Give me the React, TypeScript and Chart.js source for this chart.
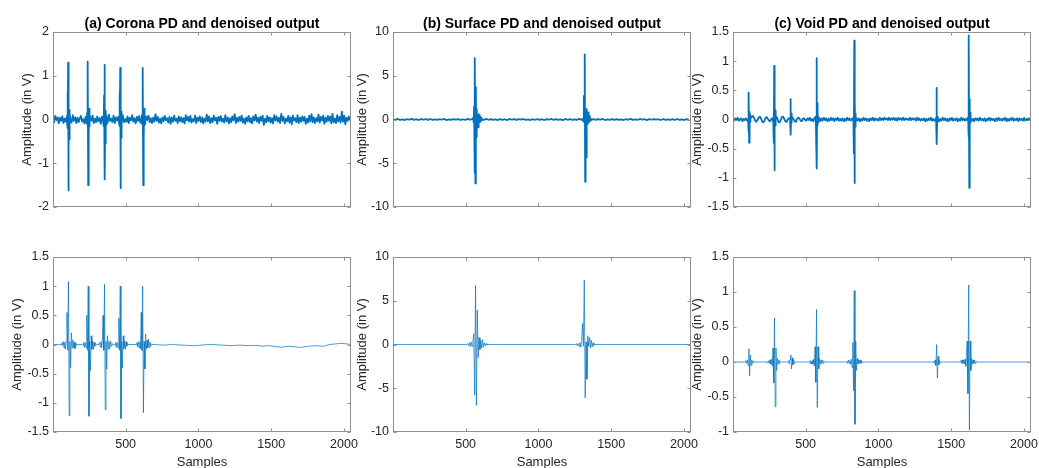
import { useEffect, useRef } from "react";
import { Chart, registerables } from "chart.js";

Chart.register(...registerables);

// ---- axes -------------------------------------------------------------
const SAMPLE_MIN = 1;
const SAMPLE_MAX = 2048;
const X_TICKS = [500, 1000, 1500, 2000];
const Y_LABEL = "Amplitude (in V)";
const X_LABEL = "Samples";
const TITLES = [
  "(a) Corona PD and denoised output",
  "(b) Surface PD and denoised output",
  "(c) Void PD and denoised output",
];

// ---- (a) corona: raw trace -------------------------------------------
// background noise, hundredths of a volt, one value every 8 samples
const coronaRawNoise = [
  3, -6, 8, -2, 5, -9, 4, -3, 7, -8, 2, -5, 9, -4, 6, -1, -7, 10, -3, 5, -8, 4, -6, 3, 8, -5, 1, -9, 6, -2, 4, -7,
  5, -3, 9, -8, 2, -6, 7, -4, 3, -10, 6, -1, 8, -5, 4, -7, 11, -3, 2, -6, 9, -8, 5, -2, 6, -9, 3, -4, 8, -6, 1, -5,
  7, -8, 4, -2, 10, -5, 3, -9, 6, -3, 8, -7, 2, -4, 5, -11, 7, -1, 9, -6, 3, -8, 4, -5, 12, -3, 6, -7, 2, -9, 5, -4,
  8, -2, 3, -7, 6, -10, 4, -5, 9, -3, 2, -8, 7, -4, 5, -6, 3, -9, 10, -2, 6, -5, 8, -7, 1, -4, 9, -8, 4, -3, 7, -6,
  5, -9, 2, -5, 11, -4, 7, -8, 3, -6, 9, -2, 4, -10, 6, -3, 8, -5, 2, -7, 10, -4, 5, -9, 3, -6, 7, -2, 12, -8, 4, -5,
  6, -3, 9, -7, 2, -10, 5, -4, 8, -6, 3, -9, 7, -2, 11, -5, 4, -8, 6, -3, 9, -12, 2, -6, 8, -4, 5, -7, 3, -9, 10, -2,
  7, -5, 4, -8, 13, -3, 6, -9, 2, -4, 8, -7, 5, -11, 9, -2, 3, -6, 10, -8, 4, -5, 7, -3, 6, -10, 2, -7, 9, -4, 12, -6,
  5, -8, 3, -4, 11, -7, 6, -2, 9, -10, 4, -5, 8, -3, 7, -9, 13, -6, 2, -8, 10, -4, 6, -7, 18, -5, 9, -11, 4, -3, 7, -2,
];
const coronaRawPulseStart = [97, 233, 348, 455, 611];
const coronaRawPulseStep = 2;
const coronaRawPulses = [
  [0.08, -0.12, 0.62, -0.2, 1.3, -1.62, 0.1, -0.45, 0.22, -0.18, 0.12],
  [-0.1, 0.15, 0.68, -0.1, 1.32, -1.5, 0.15, -0.38, 0.25, -0.15, 0.1],
  [0.1, -0.15, 0.55, -0.2, 1.25, -1.37, 0.1, -0.55, 0.2, -0.12, 0.08],
  [-0.08, 0.12, 0.6, -0.15, 1.18, -1.57, 0.12, -0.42, 0.18, -0.2, 0.1],
  [0.1, -0.1, 0.62, -0.1, 1.18, -1.5, 0.1, -0.45, 0.25, -0.12, 0.08],
];

// ---- (a) corona: denoised trace --------------------------------------
const coronaCleanBaseX = [1, 40, 700, 760, 820, 880, 930, 980, 1040, 1100, 1160, 1220, 1280, 1340, 1400, 1440, 1480, 1540, 1580, 1620, 1660, 1700, 1740, 1800, 1860, 1900, 1940, 1980, 2020, 2048];
const coronaCleanBaseY = [0, 0, 0, -0.01, 0, -0.01, -0.015, -0.02, -0.005, 0, -0.01, -0.02, -0.01, -0.02, -0.015, -0.03, -0.02, -0.04, -0.045, -0.03, -0.04, -0.05, -0.035, -0.02, -0.03, 0, 0.01, 0.02, 0.01, 0];
const coronaCleanPulseStart = [57, 203, 315, 423, 572];
const coronaCleanPulseStep = 5;
const coronaCleanPulses = [
  [0, 0.03, -0.02, 0.05, -0.06, 0.04, -0.08, 0.06, 0.55, -0.1, 1.08, -1.22, 0.05, -0.4, 0.2, -0.06, 0.08, -0.05, 0.04, -0.07, 0.03, -0.02, 0],
  [0, -0.02, 0.04, -0.05, 0.03, -0.06, 0.5, -0.1, 1.0, -1.23, 0.05, -0.45, 0.15, -0.08, 0.06, -0.09, 0.04, -0.03, 0.02, 0],
  [0, 0.03, -0.04, 0.05, -0.06, 0.04, 0.5, -0.1, 1.03, -1.12, 0.05, -0.42, 0.15, -0.08, 0.05, -0.07, 0.06, -0.03, 0.02, 0],
  [0, -0.02, 0.04, -0.05, 0.03, -0.06, 0.45, -0.1, 1.0, -1.27, 0.05, -0.4, 0.15, -0.07, 0.06, -0.08, 0.05, -0.03, 0.02, 0],
  [0, 0.03, -0.04, 0.05, -0.06, 0.04, -0.07, 0.55, -0.1, 1.0, -1.17, 0.05, -0.42, 0.18, -0.08, 0.07, -0.06, 0.09, -0.05, 0.04, -0.03, 0.01, 0],
];

// ---- (b) surface: raw trace ------------------------------------------
// background noise, hundredths of a volt, one value every 16 samples
const surfaceRawNoise = [
  5, -3, 6, -5, 2, -6, 4, -2, 7, -4, 3, -6, 5, -2, 4, -5, 6, -4, 2, -5, 5, -3, 6, -7, 2, -4, 5, -2, 4, -6, 3, -5,
  6, -2, 4, -6, 5, -4, 2, -5, 7, -3, 4, -5, 2, -6, 5, -4, 3, -7, 6, -2, 4, -5, 5, -2, 6, -4, 2, -6, 4, -3, 5, -4,
  3, -6, 5, -2, 6, -4, 4, -5, 2, -7, 6, -3, 4, -5, 2, -4, 7, -5, 3, -2, 5, -6, 4, -4, 5, -2, 6, -6, 2, -4, 4, -5,
  5, -4, 2, -6, 4, -3, 7, -5, 2, -4, 6, -2, 4, -7, 5, -3, 5, -2, 3, -6, 6, -4, 2, -5, 4, -4, 6, -5, 2, -6, 5, -3,
];
const surfaceRawPulseStart = [552, 1306];
const surfaceRawPulseStep = 3;
const surfaceRawPulses = [
  [0.2, -0.3, 1.5, -6.1, 7.0, -7.3, 3.7, -2.0, 1.2, -0.8, 0.5, -0.9, 0.6, -0.4, 0.5, -0.3, 0.3, -0.2, 0.15, -0.1, 0.1, -0.05],
  [0.1, -0.2, 2.7, -0.3, 7.45, -7.1, 0.4, -4.3, 1.2, -0.3, 0.6, -0.5, 0.8, -0.3, 0.4, -0.2, 0.2, -0.1, 0.1],
];

// ---- (b) surface: denoised trace -------------------------------------
const surfaceCleanBaseX = [1, 2048];
const surfaceCleanBaseY = [0, 0];
const surfaceCleanPulseStart = [508, 1249];
const surfaceCleanPulseStep = 6;
const surfaceCleanPulses = [
  [0, 0.1, -0.15, 0.2, -0.25, 0.3, -0.2, 0.4, 1.25, -5.8, 6.74, -6.94, 3.93, -1.5, 0.8, -0.6, 0.5, -0.4, 0.55, -0.3, 0.2, -0.15, 0.1, -0.05, 0],
  [0, -0.05, 0.1, -0.15, 0.12, -0.2, 0.2, -0.3, 0.5, 2.4, -0.2, 7.35, -6.1, 0.3, -3.97, 1.0, -0.2, 0.8, -0.4, 0.5, -0.3, 0.2, -0.1, 0.05, 0],
];

// ---- (c) void: raw trace ---------------------------------------------
// background noise, hundredths of a volt, one value every 8 samples
const voidRawNoise = [
  1, -2, 2, -1, 3, -2, 0, 2, -3, 1, -1, 2, -2, 1, -1, 2,
  4, 6, 3, -2, -4, -1, 3, 5, 2, -3, -5, -2, 3, 4, 1, -2,
  -3, 1, 2, 0, 0, 5, 2, -4, -5, -1, 4, 5, 1, -3, -4, 0, 2,
  0, 0, 4, 1, -3, -4, 1, 3, 2, -2, -3, 1, 2, -1, -2,
  2, -1, 3, -2, 1, -3, 2, -1, 0, 0, 3, -3, 2, -2, 3, -1,
  2, -3, 1, -2, 3, -1, 2, -3, 2, -1, 3, -2, 1, -2, 2, -3,
  1, -2, 3, -1, 2, -2, 1, -1, 0, 0,
  3, -2, 2, -3, 1, -2, 3, -1, 2, -2, 1, -3, 2, -1, 3, -2, 2, -1, 1, -2, 3, -1,
  2, -1, 3, 0, 2, -1, 3, -1, 2, 0, 3, -1, 2, -2, 3, 0, 2, -1, 3, -1, 2, 0, 1, -1, 3, -1, 2, 0, 2, -2, 3, -1,
  2, -2, 1, -1, 2, -3, 1, -2, 2, -1, 3, -2, 1, -2, 0, 0,
  2, -3, 1, -2, 3, -1, 2, -2, 1, -3, 2, -1, 3, -2, 1, -1, 2, -3, 1, -2, 3, -1, 2, -2, 1, -1,
  0, 0,
  3, -2, 1, -3, 2, -1, 2, -2, 3, -1, 1, -2, 2, -3, 1, -1, 3, -2, 2, -1, 1, -3, 2, -2, 3, -1, 1, -2, 2, -1, 3, -3,
  1, -2, 2, -1, 3, -2, 1, -1, 2, -3, 2, -1, 1, -2, 3, -2, 1, -1, 2, -2,
];
const voidRawPulseStart = [106, 278, 393, 569, 828, 1396, 1616];
const voidRawPulseStep = 2;
const voidRawPulses = [
  [0.03, -0.2, 0.46, -0.4, 0.13, -0.06, 0.08, -0.04],
  [-0.05, 0.1, -0.4, 0.92, -0.87, 0.26, -0.1, 0.15, -0.08, 0.06],
  [0.03, -0.1, 0.35, -0.26, 0.1, -0.05, 0.04],
  [0.05, -0.1, -0.45, 1.05, -0.84, 0.28, -0.1, 0.12, -0.05, 0.04],
  [0.04, -0.1, -0.58, 1.35, -1.09, 0.33, -0.12, 0.1, -0.06, 0.03],
  [0.03, -0.08, 0.54, -0.42, 0.05, -0.03, 0.02],
  [0.04, -0.1, -0.3, 1.44, -1.17, 0.35, -0.1, 0.12, -0.05, 0.03],
];

// ---- (c) void: denoised trace ----------------------------------------
const voidCleanBaseX = [1, 2048];
const voidCleanBaseY = [0, 0];
const voidCleanPulseStart = [85, 236, 378, 520, 779, 1375, 1560];
const voidCleanPulseStep = 5;
const voidCleanPulses = [
  [0, 0.02, -0.02, 0.03, -0.05, 0.19, -0.2, 0.1, -0.05, 0.03, -0.02, 0.01, 0],
  [0, -0.01, 0.02, -0.02, 0.03, -0.03, 0.04, -0.06, 0.2, -0.3, 0.63, -0.64, 0.2, -0.12, 0.05, -0.03, 0.03, -0.02, 0.01, 0],
  [0, 0.02, -0.03, 0.04, 0.1, -0.1, 0.06, -0.04, 0.03, -0.02, 0],
  [0, 0.01, -0.02, 0.02, -0.03, 0.02, -0.03, 0.04, -0.06, 0.22, -0.29, 0.75, -0.65, 0.22, -0.1, 0.05, -0.03, 0.03, -0.02, 0.03, -0.02, 0.01, 0],
  [0, 0.01, -0.02, 0.03, -0.02, 0.02, -0.03, 0.04, -0.08, 0.28, -0.41, 1.02, -0.89, 0.3, -0.12, 0.05, -0.03, 0.03, -0.02, 0.03, -0.02, 0.02, -0.01, 0],
  [0, 0.01, -0.02, 0.03, -0.05, 0.25, -0.23, 0.08, -0.04, 0.02, -0.01, 0, 0, 0],
  [0, 0.02, -0.02, 0.03, -0.02, 0.03, -0.03, 0.04, -0.06, 0.15, 0.3, -0.45, 1.1, -0.97, 0.3, -0.12, 0.05, -0.03, 0.03, -0.02, 0.03, -0.02, 0.01, 0],
];

// ---- y ranges per panel: [min, max, step] -----------------------------
const rawRanges = [[-2, 2, 1], [-10, 10, 5], [-1.5, 1.5, 0.5]];
const cleanRanges = [[-1.5, 1.5, 0.5], [-10, 10, 5], [-1, 1.5, 0.5]];

// ---- styling ----------------------------------------------------------
const FONT = "'Liberation Sans', Arial, Helvetica, sans-serif";
const LINE_COLOR = "#0072BD";
const TEXT_COLOR = "#262626";
const BOX_COLOR = "#8f8f8f";
const TICK_LEN = 3;
const Y_AXIS_W = 53;
const PLOT_W = 298;
const CANVAS_W = 375;
const PANEL_LEFT = [0, 340, 680];
const TOP_H = 234;
const BOTTOM_TOP = 234;
const BOTTOM_H = 250;
// distance of the rotated y-axis label centre from the canvas edge
const RAW_YLABEL_X = [27, 22, 17.5];
const CLEAN_YLABEL_X = [17, 22, 17];

type Pt = { x: number; y: number };

// sample index of the i-th value of a trace stored every `step` samples
const sampleIndices = (n: number, step: number) => Array.from({ length: n }, (_, i) => SAMPLE_MIN + i * step);

// merges a background trace with the pulse bursts that replace it locally
function buildTrace(
  baseX: number[],
  baseY: number[],
  baseScale: number,
  pulseStart: number[],
  pulseStep: number,
  pulses: number[][]
): Pt[] {
  const windows = pulseStart.map((s, i) => [s, s + pulseStep * (pulses[i].length - 1)]);
  const inPulse = (x: number) => windows.some(([a, b]) => x >= a && x <= b);
  const pts: Pt[] = [];
  baseX.forEach((x, i) => {
    if (!inPulse(x)) pts.push({ x, y: baseY[i] * baseScale });
  });
  pulses.forEach((vals, i) => vals.forEach((v, k) => pts.push({ x: pulseStart[i] + k * pulseStep, y: v })));
  return pts.sort((a, b) => a.x - b.x);
}

const rawTraces: Pt[][] = [
  buildTrace(sampleIndices(coronaRawNoise.length, 8), coronaRawNoise, 0.01, coronaRawPulseStart, coronaRawPulseStep, coronaRawPulses),
  buildTrace(sampleIndices(surfaceRawNoise.length, 16), surfaceRawNoise, 0.01, surfaceRawPulseStart, surfaceRawPulseStep, surfaceRawPulses),
  buildTrace(sampleIndices(voidRawNoise.length, 8), voidRawNoise, 0.01, voidRawPulseStart, voidRawPulseStep, voidRawPulses),
];
const cleanTraces: Pt[][] = [
  buildTrace(coronaCleanBaseX, coronaCleanBaseY, 1, coronaCleanPulseStart, coronaCleanPulseStep, coronaCleanPulses),
  buildTrace(surfaceCleanBaseX, surfaceCleanBaseY, 1, surfaceCleanPulseStart, surfaceCleanPulseStep, surfaceCleanPulses),
  buildTrace(voidCleanBaseX, voidCleanBaseY, 1, voidCleanPulseStart, voidCleanPulseStep, voidCleanPulses),
];

type PanelSpec = {
  id: string;
  top: boolean;
  left: number;
  title: string;
  points: Pt[];
  range: number[];
  yLabelX: number;
};

const PANELS: PanelSpec[] = [0, 1, 2].flatMap((c) => [
  { id: `raw-${c}`, top: true, left: PANEL_LEFT[c], title: TITLES[c], points: rawTraces[c], range: rawRanges[c], yLabelX: RAW_YLABEL_X[c] },
  { id: `clean-${c}`, top: false, left: PANEL_LEFT[c], title: "", points: cleanTraces[c], range: cleanRanges[c], yLabelX: CLEAN_YLABEL_X[c] },
]);

const plainNumber = (v: number | string) => String(Math.round(Number(v) * 1000) / 1000);

// box around the plot area with inward tick marks on all four sides
const boxPlugin = {
  id: "boxWithInnerTicks",
  afterDraw(chart: any) {
    const { ctx, chartArea: a, scales } = chart;
    const l = Math.round(a.left) + 0.5;
    const r = Math.round(a.right) - 0.5;
    const t = Math.round(a.top) + 0.5;
    const b = Math.round(a.bottom) - 0.5;
    ctx.save();
    ctx.strokeStyle = BOX_COLOR;
    ctx.lineWidth = 1;
    ctx.strokeRect(l, t, r - l, b - t);
    ctx.beginPath();
    scales.y.ticks.forEach((tk: any) => {
      const y = Math.round(scales.y.getPixelForValue(tk.value)) + 0.5;
      ctx.moveTo(l, y);
      ctx.lineTo(l + TICK_LEN, y);
      ctx.moveTo(r, y);
      ctx.lineTo(r - TICK_LEN, y);
    });
    scales.x.ticks.forEach((tk: any) => {
      const x = Math.round(scales.x.getPixelForValue(tk.value)) + 0.5;
      ctx.moveTo(x, b);
      ctx.lineTo(x, b - TICK_LEN);
      ctx.moveTo(x, t);
      ctx.lineTo(x, t + TICK_LEN);
    });
    ctx.stroke();
    ctx.restore();
  },
};

function buildConfig(p: PanelSpec): any {
  const [ymin, ymax, ystep] = p.range;
  return {
    type: "line",
    data: {
      datasets: [
        {
          data: p.points,
          borderColor: LINE_COLOR,
          borderWidth: p.top ? 1.8 : 0.7,
          borderJoinStyle: "round",
          pointRadius: 0,
          pointHoverRadius: 0,
          tension: 0,
          fill: false,
        },
      ],
    },
    options: {
      animation: false,
      responsive: false,
      devicePixelRatio: 1,
      events: [],
      layout: {
        padding: {
          left: 0,
          right: CANVAS_W - Y_AXIS_W - PLOT_W,
          top: p.top ? 0 : 23,
          bottom: p.top ? 27 : 0,
        },
      },
      plugins: {
        legend: { display: false },
        tooltip: { enabled: false },
        title: {
          display: p.top,
          text: p.title,
          fullSize: false,
          color: "#000",
          font: { family: FONT, size: 14, weight: "bold", lineHeight: "16px" },
          padding: { top: 16, bottom: 0 },
        },
      },
      scales: {
        x: {
          type: "linear",
          min: SAMPLE_MIN,
          max: SAMPLE_MAX,
          afterBuildTicks: (s: any) => {
            s.ticks = X_TICKS.map((value) => ({ value }));
          },
          grid: { display: false, drawTicks: false },
          border: { display: false },
          ticks: {
            display: !p.top,
            color: TEXT_COLOR,
            font: { family: FONT, size: 12.5 },
            padding: 5,
            maxRotation: 0,
            autoSkip: false,
            callback: plainNumber,
          },
          title: {
            display: !p.top,
            text: X_LABEL,
            color: TEXT_COLOR,
            font: { family: FONT, size: 13, lineHeight: "16px" },
            padding: { top: 0, bottom: 13.5 },
          },
          afterFit: (s: any) => {
            s.height = p.top ? 0 : 52;
            s.paddingLeft = 0;
            s.paddingRight = 0;
          },
        },
        y: {
          type: "linear",
          min: ymin,
          max: ymax,
          grid: { display: false, drawTicks: false },
          border: { display: false },
          ticks: {
            stepSize: ystep,
            color: TEXT_COLOR,
            font: { family: FONT, size: 12.5 },
            padding: 4,
            autoSkip: false,
            callback: plainNumber,
          },
          title: {
            display: true,
            text: Y_LABEL,
            color: TEXT_COLOR,
            font: { family: FONT, size: 13, lineHeight: "16px" },
            padding: { top: p.yLabelX - 8, bottom: 0 },
          },
          afterFit: (s: any) => {
            s.width = Y_AXIS_W;
            s.paddingTop = 0;
            s.paddingBottom = 0;
          },
        },
      },
    },
    plugins: [boxPlugin],
  };
}

function Panel({ spec }: { spec: PanelSpec }) {
  const ref = useRef<HTMLCanvasElement>(null);
  const h = spec.top ? TOP_H : BOTTOM_H;
  useEffect(() => {
    if (!ref.current) return;
    const chart = new Chart(ref.current, buildConfig(spec));
    return () => chart.destroy();
  }, [spec]);
  return (
    <canvas
      ref={ref}
      width={CANVAS_W}
      height={h}
      style={{
        position: "absolute",
        left: spec.left,
        top: spec.top ? 0 : BOTTOM_TOP,
        width: CANVAS_W,
        height: h,
      }}
    />
  );
}

export default function App() {
  return (
    <div
      style={{
        position: "absolute",
        left: 0,
        top: 0,
        width: 1039,
        height: 468,
        overflow: "hidden",
        background: "#fff",
      }}
    >
      {PANELS.map((p) => (
        <Panel key={p.id} spec={p} />
      ))}
    </div>
  );
}
